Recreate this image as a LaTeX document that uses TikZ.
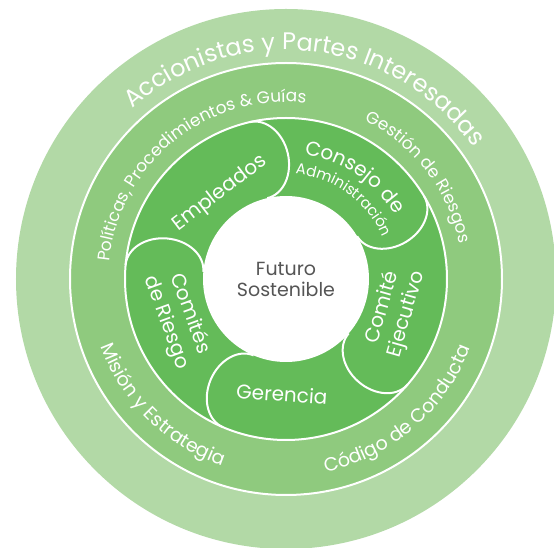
\documentclass[tikz,border=0pt]{standalone}
\usepackage{fontspec}
\setmainfont{Poppins}
\usepackage{tikz}
\usetikzlibrary{decorations.text}
\definecolor{LightLeaf}{HTML}{B2D9A6}
\definecolor{MidLeaf}{HTML}{8FCA7E}
\definecolor{DarkLeaf}{HTML}{64BB59}
\definecolor{CoreGray}{HTML}{555555}

\begin{document}
\begin{tikzpicture}[x=1pt,y=1pt,
	ring/.style={draw=white,line width=2pt},
	lobe/.style={draw=white,line width=2pt},
	petal/.style={text=white,align=center,font=\fontsize{20}{25}\selectfont},
	curved/.style={decorate,decoration={text along path,text align=center,text color=white,text={#1}}}]
	\useasboundingbox (-286,-269) rectangle (268,279);
	
	\fill[LightLeaf] (0,0) circle[radius=270];
	\draw[ring,fill=MidLeaf] (0,0) circle[radius=216];
	\draw[ring,fill=DarkLeaf] (0,0) circle[radius=161];
	
	% rounded ends of the five lobes
	\foreach \a in {247,175,103,31,-41}
		\draw[lobe,rotate=\a] (161,0) arc[start angle=0,end angle=-180,x radius=39,y radius=30];
	
	\node[circle,fill=white,minimum size=166pt,inner sep=0pt,text=CoreGray,align=center,
		font=\fontsize{19}{21}\selectfont] (core) at (0,0) {Futuro\\Sostenible};
	
	\node[petal,rotate=37.5] (empleados) at (127.5:108) {Empleados};
	\node[petal,rotate=-70] (comites) at (200:115) {Comités\\de Riesgo};
	\node[petal,rotate=-4] (gerencia) at (268:115) {Gerencia};
	\node[petal,rotate=74] (ejecutivo) at (-16.4:113) {Comité\\Ejecutivo};
	
	\path[curved={|\fontsize{20}{24}\selectfont|Consejo de}]
		(116:126) arc[start angle=116,end angle=-4,radius=126];
	\path[curved={|\fontsize{15}{18}\selectfont|Administración}]
		(114:105.5) arc[start angle=114,end angle=-6,radius=105.5];
	
	\path[curved={|\fontsize{17}{20}\selectfont|Políticas, Procedimientos {\&} Guías}]
		(189:177) arc[start angle=189,end angle=69,radius=177];
	\path[curved={|\fontsize{17}{20}\selectfont|Gestión de Riesgos}]
		(97.5:177) arc[start angle=97.5,end angle=-22.5,radius=177];
	\path[curved={|\fontsize{19}{22}\selectfont|Misión y Estrategia}]
		(165.6:197) arc[start angle=165.6,end angle=285.6,radius=197];
	\path[curved={|\fontsize{19}{22}\selectfont|Código de Conducta}]
		(250.6:197) arc[start angle=250.6,end angle=370.6,radius=197];
	
	\path[curved={|\fontsize{24}{28}\selectfont|Accionistas y Partes Interesadas}]
		(153.5:229) arc[start angle=153.5,end angle=13.5,radius=229];
\end{tikzpicture}
\end{document}
